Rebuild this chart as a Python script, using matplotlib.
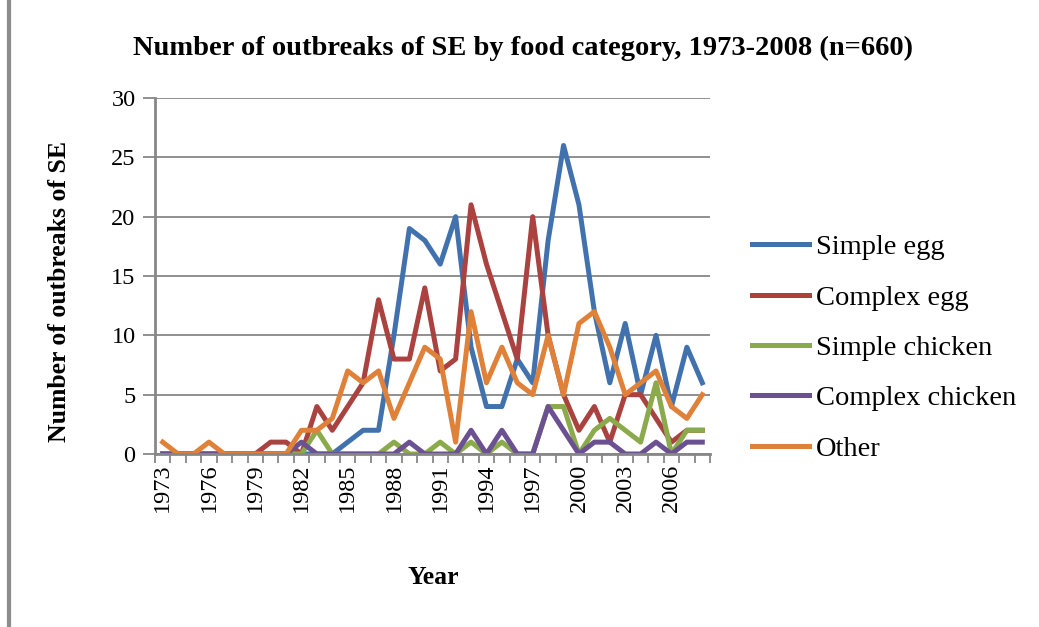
import numpy as np
import matplotlib.pyplot as plt
from matplotlib.lines import Line2D

# outbreaks of SE per year and food category
years = list(range(1973, 2009))
simple_egg = [0, 0, 0, 0, 0, 0, 0, 0, 0, 0, 0, 0, 1, 2, 2, 10, 19, 18,
              16, 20, 9, 4, 4, 8, 6, 18, 26, 21, 12, 6, 11, 5, 10, 4, 9, 6]
complex_egg = [0, 0, 0, 0, 0, 0, 0, 1, 1, 0, 4, 2, 4, 6, 13, 8, 8, 14,
               7, 8, 21, 16, 12, 8, 20, 10, 5, 2, 4, 1, 5, 5, 3, 1, 2, 2]
simple_chicken = [0, 0, 0, 0, 0, 0, 0, 0, 0, 0, 2, 0, 0, 0, 0, 1, 0, 0,
                  1, 0, 1, 0, 1, 0, 0, 4, 4, 0, 2, 3, 2, 1, 6, 0, 2, 2]
complex_chicken = [0, 0, 0, 0, 0, 0, 0, 0, 0, 1, 0, 0, 0, 0, 0, 0, 1, 0,
                   0, 0, 2, 0, 2, 0, 0, 4, 2, 0, 1, 1, 0, 0, 1, 0, 1, 1]
other = [1, 0, 0, 1, 0, 0, 0, 0, 0, 2, 2, 3, 7, 6, 7, 3, 6, 9,
         8, 1, 12, 6, 9, 6, 5, 10, 5, 11, 12, 9, 5, 6, 7, 4, 3, 5]

names = ["Simple egg", "Complex egg", "Simple chicken", "Complex chicken", "Other"]
colors = ["#4172AE", "#AA4240", "#8BAA4B", "#6C5192", "#E0813A"]
series = [simple_egg, complex_egg, simple_chicken, complex_chicken, other]

W, H = 1039, 627
serif = "Liberation Serif"
grey = "#878787"

fig = plt.figure(figsize=(W / 100, H / 100), dpi=100)
ax = fig.add_axes([155 / W, 1 - 454 / H, (710 - 155) / W, (454 - 98) / H])

x = np.arange(len(years))
for vals, name, col in zip(series, names, colors):
    ax.plot(x, vals, color=col, lw=3.6, label=name)

ax.set_xlim(-0.5, len(years) - 0.5)
ax.set_ylim(0, 30)

# y axis
ax.set_yticks(range(0, 31, 5))
ax.yaxis.grid(True, color=grey, lw=1.3)
ax.set_axisbelow(True)
ax.tick_params(axis='y', length=8.5, width=1.3, color=grey, pad=5.5,
               labelsize=17.5)

# x axis: labels every 3 years, tick marks between categories
ax.set_xticks(x[::3])
ax.set_xticklabels([str(y) for y in years[::3]], rotation=90)
ax.set_xticks(np.arange(-0.5, len(years), 1), minor=True)
ax.tick_params(axis='x', which='major', length=0, pad=7, labelsize=17.5)
ax.tick_params(axis='x', which='minor', length=6.5, width=1.3, color=grey)

for lab in ax.get_xticklabels() + ax.get_yticklabels():
    lab.set_family(serif)

for s in ['top', 'right']:
    ax.spines[s].set_visible(False)
for s in ['left', 'bottom']:
    ax.spines[s].set_color(grey)
    ax.spines[s].set_linewidth(2)

fig.text(523 / W, 1 - 48 / H,
         "Number of outbreaks of SE by food category, 1973-2008 (n=660)",
         ha='center', va='center', fontsize=20.5, weight='bold', family=serif)
fig.text(60 / W, 1 - 291 / H, "Number of outbreaks of SE", rotation=90,
         ha='center', va='center', fontsize=18.5, weight='bold', family=serif)
fig.text(433 / W, 1 - 577 / H, "Year",
         ha='center', va='center', fontsize=18.5, weight='bold', family=serif)

fig.legend(loc='center left', bbox_to_anchor=(752 / W, 1 - 348 / H),
           frameon=False, prop={'family': serif, 'size': 20.5},
           handlelength=2.0, handletextpad=0.25, labelspacing=0.86,
           borderpad=0, borderaxespad=0)

# grey frame edge on the left of the chart area
fig.add_artist(Line2D([9 / W, 9 / W], [0, 1], color="#8c8c8c", lw=3))

fig.savefig("out.png", dpi=100)
